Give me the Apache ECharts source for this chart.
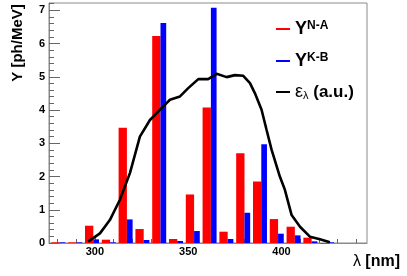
<!DOCTYPE html>
<html>
<head>
<meta charset="utf-8">
<script src="https://cdn.jsdelivr.net/npm/echarts@6/dist/echarts.min.js"></script>
<style>html,body{margin:0;padding:0;background:#fff;}#c{width:407px;height:276px;}</style>
</head>
<body>
<div id="c"></div>
<script>
// Bin left edges (nm) and yields per bin
const binStart = [276.7, 285.7, 294.7, 303.7, 312.7, 321.7, 330.7, 339.7, 348.7, 357.7, 366.7, 375.7, 384.7, 393.7, 402.7, 411.7, 420.7];
const yieldNA = [0.02, 0.02, 0.52, 0.10, 3.47, 0.42, 6.23, 0.12, 1.46, 4.08, 0.34, 2.70, 1.85, 0.72, 0.49, 0.16, 0.00];
const yieldKB = [0.02, 0.02, 0.11, 0.02, 0.71, 0.09, 6.62, 0.06, 0.36, 7.08, 0.12, 0.91, 2.97, 0.28, 0.23, 0.05, 0.02];
// Efficiency curve (a.u.)
const epsLambda = [296.4, 302.7, 308.0, 313.4, 318.8, 324.1, 329.5, 333.1, 338.4, 340.2, 345.6, 350.0, 355.4, 360.7, 365.2, 370.6, 375.0, 379.5, 383.1, 385.7, 389.3, 392.0, 394.7, 399.1, 401.8, 405.4, 409.9, 415.2, 420.6, 425.9];
const epsValue  = [0.04, 0.29, 0.69, 1.30, 2.11, 3.20, 3.70, 3.91, 4.21, 4.31, 4.41, 4.66, 4.93, 4.93, 5.09, 4.99, 5.05, 5.03, 4.81, 4.51, 4.01, 3.40, 2.80, 2.00, 1.60, 0.84, 0.49, 0.19, 0.11, 0.02];
// Ticks
const xMajorTicks = [300, 350, 400];
const xMinorTicks = [280, 290, 310, 320, 330, 340, 360, 370, 380, 390, 410, 420, 430, 440];
const yMajorTicks = [0, 1, 2, 3, 4, 5, 6, 7];
const yMinorTicks = [0.2,0.4,0.6,0.8,1.2,1.4,1.6,1.8,2.2,2.4,2.6,2.8,3.2,3.4,3.6,3.8,4.2,4.4,4.6,4.8,5.2,5.4,5.6,5.8,6.2,6.4,6.6,6.8,7.2];

const FONT = 'Liberation Sans';
const X_MIN = 275.4, X_MAX = 445.8, Y_MIN = 0, Y_MAX = 7.22;
const AXIS_GRAY = '#8a8a8a';

function barRenderer(off0, off1, color) {
  return function (params, api) {
    const x = api.value(0), v = api.value(1);
    const p0 = api.coord([x + off0, v]);
    const p1 = api.coord([x + off1, 0]);
    return {
      type: 'rect',
      shape: { x: p0[0], y: p0[1], width: p1[0] - p0[0], height: Math.max(p1[1] - p0[1], 0.6) },
      style: { fill: color }
    };
  };
}

const gridPos = { left: 49, right: 40, top: 3, bottom: 33 };
const chart = echarts.init(document.getElementById('c'), null, { renderer: 'canvas' });

const legendRich = {
  y: { fontSize: 18, fontWeight: 'bold', fontFamily: FONT, color: '#000' },
  sup: { fontSize: 12, fontWeight: 'bold', fontFamily: FONT, color: '#000', verticalAlign: 'top' },
  e: { fontSize: 18, fontFamily: FONT, color: '#000' },
  sub: { fontSize: 11, fontFamily: FONT, color: '#000', verticalAlign: 'bottom' },
  t: { fontSize: 17, fontWeight: 'bold', fontFamily: FONT, color: '#000' }
};
function legendFmt(name) {
  if (name === 'N-A') return '{y|Y}{sup|N-A}';
  if (name === 'K-B') return '{y|Y}{sup|K-B}';
  return '{e|ε}{sub|λ}{t| (a.u.)}';
}
const LINE_ICON = 'path://M0,0L14,0L14,2L0,2Z';
function mkLegend(name, top, color) {
  return {
    data: [name], icon: LINE_ICON, orient: 'vertical', left: 276, top: top,
    itemWidth: 14, itemHeight: 2, padding: 0, selectedMode: false,
    itemStyle: { color: color, borderWidth: 0 }, lineStyle: { width: 0 },
    formatter: legendFmt, textStyle: { rich: legendRich }
  };
}

chart.setOption({
  animation: false,
  backgroundColor: '#fff',
  grid: [
    Object.assign({ show: true, borderColor: AXIS_GRAY, borderWidth: 1, backgroundColor: 'transparent' }, gridPos),
    Object.assign({ show: false }, gridPos)
  ],
  legend: [mkLegend('N-A', 20, '#ff0000'), mkLegend('K-B', 52, '#0000ff'), mkLegend('eps', 83, '#000000')],
  xAxis: [
    { type: 'value', gridIndex: 0, min: X_MIN, max: X_MAX,
      axisLine: { show: true, lineStyle: { color: AXIS_GRAY, width: 1 } },
      axisTick: { show: true, inside: true, length: 8, customValues: xMajorTicks, lineStyle: { color: '#666' } },
      axisLabel: { customValues: xMajorTicks, fontWeight: 'bold', fontSize: 11, fontFamily: FONT, color: '#000', margin: 3 },
      splitLine: { show: false } },
    { type: 'value', gridIndex: 1, min: X_MIN, max: X_MAX,
      axisLine: { show: false },
      axisTick: { show: true, inside: true, length: 4, customValues: xMinorTicks, lineStyle: { color: '#666' } },
      axisLabel: { show: false }, splitLine: { show: false } }
  ],
  yAxis: [
    { type: 'value', gridIndex: 0, min: Y_MIN, max: Y_MAX,
      axisLine: { show: true, lineStyle: { color: AXIS_GRAY, width: 1 } },
      axisTick: { show: true, inside: true, length: 11, customValues: yMajorTicks, lineStyle: { color: '#666' } },
      axisLabel: { customValues: yMajorTicks, fontWeight: 'bold', fontSize: 11, fontFamily: FONT, color: '#000', margin: 4 },
      splitLine: { show: false } },
    { type: 'value', gridIndex: 1, min: Y_MIN, max: Y_MAX,
      axisLine: { show: false },
      axisTick: { show: true, inside: true, length: 5, customValues: yMinorTicks, lineStyle: { color: '#666' } },
      axisLabel: { show: false }, splitLine: { show: false } }
  ],
  series: [
    { name: 'N-A', type: 'custom', xAxisIndex: 0, yAxisIndex: 0, itemStyle: { color: '#ff0000' },
      encode: { x: 0, y: 1 },
      data: binStart.map((x, i) => [x, yieldNA[i]]),
      renderItem: barRenderer(0, 4.45, '#ff0000'), z: 2 },
    { name: 'K-B', type: 'custom', xAxisIndex: 0, yAxisIndex: 0, itemStyle: { color: '#0000ff' },
      encode: { x: 0, y: 1 },
      data: binStart.map((x, i) => [x, yieldKB[i]]),
      renderItem: barRenderer(4.45, 7.5, '#0000ff'), z: 3 },
    { name: 'eps', type: 'line', xAxisIndex: 0, yAxisIndex: 0, showSymbol: false, symbol: 'none',
      itemStyle: { color: '#000' }, lineStyle: { color: '#000', width: 2.6 },
      data: epsLambda.map((x, i) => [x, epsValue[i]]), z: 4 }
  ],
  graphic: [
    { type: 'text', x: 18, y: 43, rotation: Math.PI / 2,
      style: { text: 'Y [ph/MeV]', font: 'bold 15px "Liberation Sans"', fill: '#000', align: 'center', verticalAlign: 'middle' } },
    { type: 'text', x: 400, y: 262,
      style: { text: '{l|λ}{b| [nm]}', align: 'right', verticalAlign: 'middle',
        rich: { l: { fontSize: 16, fontFamily: FONT, fill: '#000' }, b: { fontSize: 16, fontWeight: 'bold', fontFamily: FONT, fill: '#000' } } } }
  ]
});
</script>
</body>
</html>
